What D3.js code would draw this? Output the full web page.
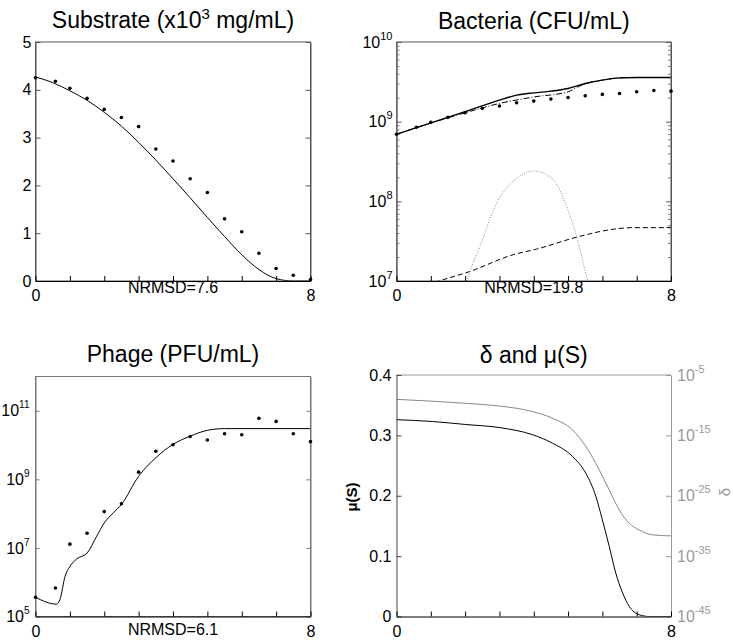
<!DOCTYPE html>
<html><head><meta charset="utf-8">
<script src="https://cdn.jsdelivr.net/npm/d3@7"></script>
<style>
body{margin:0;background:#fff}
text{font-family:"Liberation Sans",Arial,Helvetica,sans-serif}
</style></head>
<body><svg id="c" width="733" height="641"></svg>
<script>
// ---------- data ----------
const tObs = [0,0.58,1,1.5,2,2.5,3,3.5,4,4.5,5,5.5,6,6.5,7,7.5,8];
const xTicks = [0,1,2,3,4,5,6,7,8];

// Substrate (x10^3 mg/mL)
const substrateObs = [4.25,4.18,4.03,3.82,3.59,3.42,3.23,2.76,2.51,2.14,1.85,1.30,1.03,0.58,0.26,0.12,0.03];
const substrateFitT = [0,0.5,1,1.5,2,2.5,3,3.5,4,4.5,5,5.5,6,6.5,7,7.5,8];
const substrateFit = [4.27,4.15,3.98,3.78,3.53,3.24,2.90,2.53,2.14,1.74,1.33,0.93,0.55,0.24,0.05,0,0];
const substrateTicks = [0,1,2,3,4,5];

// Bacteria (CFU/mL), log10 values
const bacteriaObsLog = [8.842,8.929,8.992,9.054,9.112,9.167,9.196,9.238,9.258,9.283,9.304,9.325,9.342,9.354,9.375,9.392,9.383];
const bacteriaTotalT = [0,2,3,3.5,4,4.5,5,5.5,6,6.5,7,8];
const bacteriaTotalLog = [8.842,9.125,9.271,9.333,9.362,9.383,9.417,9.479,9.521,9.550,9.554,9.554];
const bacteriaSuscT = [0,2,3,4,5,5.3,5.6,6,6.5,7,8];
const bacteriaSuscLog = [8.842,9.112,9.229,9.31,9.375,9.44,9.49,9.521,9.550,9.554,9.554];
const bacteriaInfT = [2.0,2.12,2.43,2.92,3.4,4.0,4.57,4.96,5.25,5.54,5.65];
const bacteriaInfLog = [6.9,7.09,7.43,7.98,8.25,8.38,8.27,7.93,7.56,7.06,6.9];
const bacteriaResT = [0.9,1.17,2.14,3.4,4.08,5.25,6.32,6.9,8];
const bacteriaResLog = [6.95,6.99,7.12,7.33,7.40,7.55,7.65,7.67,7.67];
const bacteriaTickExp = [7,8,9,10];

// Phage (PFU/mL), log10 values
const phageObsLog = [5.56,5.83,7.11,7.43,8.06,8.29,9.21,9.82,10.01,10.25,10.15,10.33,10.30,10.78,10.69,10.33,10.10];
const phageFitT = [0,0.61,0.71,0.86,1.0,1.2,1.5,1.78,2.0,2.26,2.5,3,3.5,4,4.5,5,5.5,8];
const phageFitLog = [5.56,5.36,5.49,6.17,6.46,6.68,6.85,7.34,7.73,8.02,8.27,9.09,9.63,10.02,10.26,10.43,10.48,10.48];
const phageTickExp = [5,7,9,11];

// delta and mu(S)
const muT = [0,1.05,2.02,2.99,3.97,4.55,5.13,5.52,5.81,6.0,6.2,6.39,6.59,6.78,7.07,7.37,8];
const mu = [0.326,0.323,0.318,0.313,0.301,0.287,0.265,0.237,0.199,0.160,0.116,0.072,0.039,0.017,0.003,0,0];
const muTicks = [0,0.1,0.2,0.3,0.4];
const deltaT = [0,2.02,2.99,3.97,4.55,5.13,5.52,5.91,6.2,6.49,6.78,7.07,7.46,8];
const deltaLog = [-9.03,-9.69,-10.13,-11.07,-12.17,-14.10,-16.86,-20.72,-24.03,-27.34,-29.55,-30.66,-31.48,-31.65];
const deltaTickExp = [-45,-35,-25,-15,-5];

// ---------- drawing ----------
const svg = d3.select("#c");
const AX = "#555";
const FONT = '"Liberation Sans",Arial,sans-serif';
const boxes = {
  p1:{l:35.5,r:310.5,t:42,b:281},
  p2:{l:396.5,r:671,t:42,b:281},
  p3:{l:35.5,r:310.5,t:376.5,b:616.5},
  p4:{l:396.5,r:671,t:375,b:616.5}
};
let clipN=0;
function makePanel(b){
  const g = svg.append("g");
  const id = "clip"+(clipN++);
  svg.append("clipPath").attr("id",id).append("rect")
    .attr("x",b.l).attr("y",b.t).attr("width",b.r-b.l).attr("height",b.b-b.t);
  const plot = g.append("g").attr("clip-path",`url(#${id})`);
  const x = d3.scaleLinear().domain([0,8]).range([b.l,b.r]);
  return {g,plot,x};
}
function xAxis(P,b,nrY,nrText){
  const ax = d3.axisBottom(P.x).tickValues(xTicks).tickSizeInner(-5).tickSizeOuter(0).tickPadding(9)
    .tickFormat(d=> (d===0||d===8)? String(d):"");
  const ga = P.g.append("g").attr("transform",`translate(0,${b.b})`).call(ax);
  ga.select(".domain").attr("stroke","#000");
  ga.selectAll(".tick line").attr("stroke","#000");
  ga.selectAll("text").attr("font-size",16).attr("fill","#000").attr("font-family",FONT);
  if(nrText) P.g.append("text").attr("x",(b.l+b.r)/2).attr("y",nrY).attr("text-anchor","middle")
    .attr("font-size",16).text(nrText);
}
function title(P,cx,y,parts){
  const t = P.g.append("text").attr("x",cx).attr("y",y).attr("text-anchor","middle").attr("font-size",23);
  parts.forEach(p=>{
    const s=t.append("tspan").text(p.s);
    if(p.sup){ s.attr("font-size",15).attr("dy",-9); }
    if(p.down){ s.attr("dy",9); }
  });
}
function supLabels(sel,color,supSize){
  sel.selectAll(".tick text").each(function(d){
    const t=d3.select(this); t.text("");
    const e=Math.round(Math.log10(d));
    t.append("tspan").text("10");
    t.append("tspan").attr("font-size",supSize||11).attr("dy",-8).text(e);
  }).attr("font-size",16).attr("fill",color).attr("font-family",FONT);
}
function styleAxis(ga,color){
  ga.select(".domain").attr("stroke",color);
  ga.selectAll(".tick line").attr("stroke",color);
}
const line = (x,y)=>d3.line().x(d=>x(d[0])).y(d=>y(d[1])).curve(d3.curveMonotoneX);
const zip = (a,b,f=v=>v)=>a.map((v,i)=>[v,f(b[i])]);
const p10 = v=>Math.pow(10,v);

// ---- Panel 1: Substrate ----
{
  const b=boxes.p1, P=makePanel(b);
  const y=d3.scaleLinear().domain([0,5]).range([b.b,b.t]);
  P.g.append("rect").attr("x",b.l).attr("y",b.t).attr("width",b.r-b.l).attr("height",b.b-b.t)
    .attr("fill","none").attr("stroke",AX);
  const yl=P.g.append("g").attr("transform",`translate(${b.l},0)`)
    .call(d3.axisLeft(y).tickValues(substrateTicks).tickSizeInner(-5).tickSizeOuter(0).tickPadding(4).tickFormat(d3.format("d")));
  styleAxis(yl,AX); yl.selectAll("text").attr("font-size",16).attr("fill","#000").attr("font-family",FONT);
  const yr=P.g.append("g").attr("transform",`translate(${b.r},0)`)
    .call(d3.axisRight(y).tickValues(substrateTicks).tickSizeInner(-5).tickSizeOuter(0).tickFormat(""));
  styleAxis(yr,AX);
  xAxis(P,b,293,"NRMSD=7.6");
  P.plot.append("path").datum(zip(substrateFitT,substrateFit)).attr("d",line(P.x,y))
    .attr("fill","none").attr("stroke","#000").attr("stroke-width",1);
  P.g.selectAll("circle.o").data(zip(tObs,substrateObs)).join("circle").attr("class","o")
    .attr("cx",d=>P.x(d[0])).attr("cy",d=>y(d[1])).attr("r",1.8).attr("fill","#000");
  title(P,(b.l+b.r)/2,28,[{s:"Substrate (x10"},{s:"3",sup:true},{s:" mg/mL)",down:true}]);
}

// ---- Panel 2: Bacteria ----
{
  const b=boxes.p2, P=makePanel(b);
  const y=d3.scaleLog().domain([1e7,1e10]).range([b.b,b.t]);
  P.g.append("rect").attr("x",b.l).attr("y",b.t).attr("width",b.r-b.l).attr("height",b.b-b.t)
    .attr("fill","none").attr("stroke",AX);
  const decades = bacteriaTickExp.map(p10);
  const minors = [];
  bacteriaTickExp.slice(0,-1).forEach(e=>{for(let k=2;k<=9;k++) minors.push(k*p10(e));});
  const yl=P.g.append("g").attr("transform",`translate(${b.l},0)`)
    .call(d3.axisLeft(y).tickValues(decades).tickSizeInner(-5).tickSizeOuter(0).tickPadding(4));
  styleAxis(yl,AX); supLabels(yl,"#000");
  [[d3.axisLeft,b.l],[d3.axisRight,b.r]].forEach(([A,xx])=>{
    const gm=P.g.append("g").attr("transform",`translate(${xx},0)`)
      .call(A(y).tickValues(minors).tickSizeInner(-3).tickSizeOuter(0).tickFormat(""));
    styleAxis(gm,"#777");
  });
  const yr=P.g.append("g").attr("transform",`translate(${b.r},0)`)
    .call(d3.axisRight(y).tickValues(decades).tickSizeInner(-5).tickSizeOuter(0).tickFormat(""));
  styleAxis(yr,AX);
  xAxis(P,b,293,"NRMSD=19.8");
  const L=line(P.x,y);
  P.plot.append("path").datum(zip(bacteriaResT,bacteriaResLog,p10)).attr("d",L)
    .attr("fill","none").attr("stroke","#000").attr("stroke-width",1).attr("stroke-dasharray","5,3");
  P.plot.append("path").datum(zip(bacteriaInfT,bacteriaInfLog,p10)).attr("d",L)
    .attr("fill","none").attr("stroke","#888").attr("stroke-width",1).attr("stroke-dasharray","1,1.5");
  P.plot.append("path").datum(zip(bacteriaSuscT,bacteriaSuscLog,p10)).attr("d",L)
    .attr("fill","none").attr("stroke","#000").attr("stroke-width",1).attr("stroke-dasharray","6,2,1,2");
  P.plot.append("path").datum(zip(bacteriaTotalT,bacteriaTotalLog,p10)).attr("d",L)
    .attr("fill","none").attr("stroke","#000").attr("stroke-width",1.4);
  P.g.selectAll("circle.o").data(zip(tObs,bacteriaObsLog,p10)).join("circle").attr("class","o")
    .attr("cx",d=>P.x(d[0])).attr("cy",d=>y(d[1])).attr("r",1.8).attr("fill","#000");
  title(P,(b.l+b.r)/2,29,[{s:"Bacteria (CFU/mL)"}]);
}

// ---- Panel 3: Phage ----
{
  const b=boxes.p3, P=makePanel(b);
  const y=d3.scaleLog().domain([1e5,1e12]).range([b.b,b.t]);
  P.g.append("rect").attr("x",b.l).attr("y",b.t).attr("width",b.r-b.l).attr("height",b.b-b.t)
    .attr("fill","none").attr("stroke","#777");
  const decades = phageTickExp.map(p10);
  const yl=P.g.append("g").attr("transform",`translate(${b.l},0)`)
    .call(d3.axisLeft(y).tickValues(decades).tickSizeInner(-4).tickSizeOuter(0).tickPadding(6));
  styleAxis(yl,"#777"); supLabels(yl,"#000",10);
  const yr=P.g.append("g").attr("transform",`translate(${b.r},0)`)
    .call(d3.axisRight(y).tickValues(decades).tickSizeInner(-4).tickSizeOuter(0).tickFormat(""));
  styleAxis(yr,"#777");
  xAxis(P,b,635,"NRMSD=6.1");
  P.plot.append("path").datum(zip(phageFitT,phageFitLog,p10)).attr("d",line(P.x,y))
    .attr("fill","none").attr("stroke","#000").attr("stroke-width",1);
  P.g.selectAll("circle.o").data(zip(tObs,phageObsLog,p10)).join("circle").attr("class","o")
    .attr("cx",d=>P.x(d[0])).attr("cy",d=>y(d[1])).attr("r",1.8).attr("fill","#000");
  title(P,(b.l+b.r)/2,362,[{s:"Phage (PFU/mL)"}]);
}

// ---- Panel 4: delta and mu(S) ----
{
  const b=boxes.p4, P=makePanel(b);
  const y=d3.scaleLinear().domain([0,0.4]).range([b.b,b.t]);
  const yd=d3.scaleLog().domain([1e-45,1e-5]).range([b.b,b.t]);
  P.g.append("line").attr("x1",b.l).attr("x2",b.r).attr("y1",b.t).attr("y2",b.t).attr("stroke","#999");
  const yl=P.g.append("g").attr("transform",`translate(${b.l},0)`)
    .call(d3.axisLeft(y).tickValues(muTicks).tickSizeInner(-5).tickSizeOuter(0).tickPadding(5).tickFormat(d=>d===0?"0":d3.format(".1f")(d)));
  styleAxis(yl,"#444"); yl.selectAll("text").attr("font-size",16).attr("fill","#000").attr("font-family",FONT);
  const yr=P.g.append("g").attr("transform",`translate(${b.r},0)`)
    .call(d3.axisRight(yd).tickValues(deltaTickExp.map(p10)).tickSizeInner(-5).tickSizeOuter(0).tickPadding(6));
  styleAxis(yr,"#999"); supLabels(yr,"#999");
  xAxis(P,b,0,"");
  P.plot.append("path").datum(zip(deltaT,deltaLog,p10)).attr("d",line(P.x,yd))
    .attr("fill","none").attr("stroke","#888").attr("stroke-width",1);
  P.plot.append("path").datum(zip(muT,mu)).attr("d",line(P.x,y))
    .attr("fill","none").attr("stroke","#000").attr("stroke-width",1);
  title(P,(b.l+b.r)/2,363,[{s:"δ and μ(S)"}]);
  P.g.append("text").attr("transform","translate(357,497) rotate(-90)").attr("text-anchor","middle")
    .attr("font-size",15).attr("font-weight","bold").text("μ(S)");
  P.g.append("text").attr("transform","translate(730,492) rotate(-90)").attr("text-anchor","middle")
    .attr("font-size",15).attr("fill","#999").text("δ");
}
</script></body></html>
